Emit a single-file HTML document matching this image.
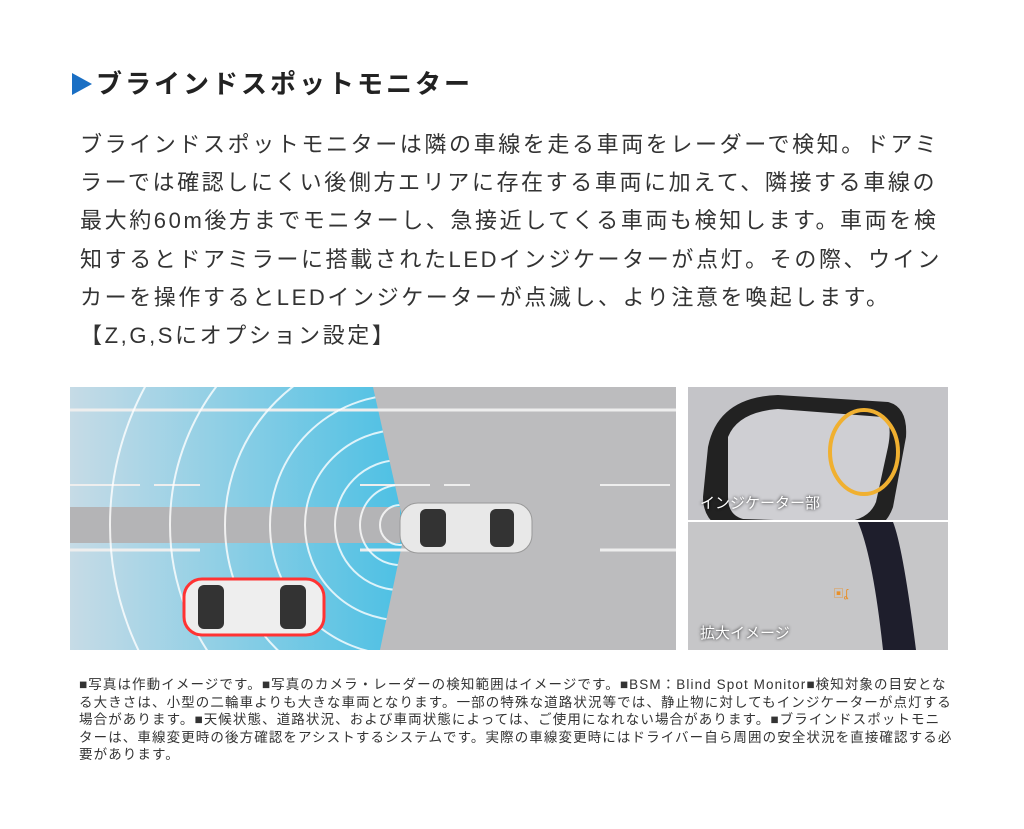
<!DOCTYPE html>
<html><head><meta charset="utf-8"><style>
body{margin:0;width:1024px;height:829px;background:#fff;position:relative;overflow:hidden;font-family:"Liberation Sans","Noto Sans CJK JP",sans-serif;color:#333}
.t{position:absolute;left:72px;top:64px;font-size:26px;font-weight:bold;color:#222;white-space:nowrap;letter-spacing:3px}
.t span{display:inline-block;width:0;height:0;border-top:11px solid transparent;border-bottom:11px solid transparent;border-left:20px solid #1a6fc4;vertical-align:-2px;margin-right:4px}
.b{position:absolute;left:80px;top:126px;font-size:22px;line-height:38.2px;color:#333;white-space:nowrap;letter-spacing:2.6px}
.f{position:absolute;left:79px;top:676px;font-size:13.5px;line-height:17.6px;color:#333;white-space:nowrap;letter-spacing:1.1px}
.lbl{position:absolute;color:#fff;font-size:15px;text-shadow:0 0 3px #000}
</style></head><body>
<div class="t"><span></span>ブラインドスポットモニター</div>
<div class="b">ブラインドスポットモニターは隣の車線を走る車両をレーダーで検知。ドアミ<br>ラーでは確認しにくい後側方エリアに存在する車両に加えて、隣接する車線の<br>最大約60m後方までモニターし、急接近してくる車両も検知します。車両を検<br>知するとドアミラーに搭載されたLEDインジケーターが点灯。その際、ウイン<br>カーを操作するとLEDインジケーターが点滅し、より注意を喚起します。<br>【Z,G,Sにオプション設定】</div>
<svg style="position:absolute;left:70px;top:387px" width="606" height="263">
<defs><linearGradient id="g" x1="0" x2="1"><stop offset="0" stop-color="#c6dbe6"/><stop offset="1" stop-color="#4cc0e4"/></linearGradient>
<clipPath id="c"><polygon points="0,0 303,0 335,143 310,263 0,263"/></clipPath></defs>
<rect width="606" height="263" fill="#bcbcbe"/>
<polygon points="0,0 303,0 335,143 310,263 0,263" fill="url(#g)"/>
<g stroke="#eee" stroke-width="3"><line x1="0" y1="23" x2="606" y2="23"/><line x1="0" y1="163" x2="130" y2="163"/><line x1="290" y1="163" x2="400" y2="163"/><line x1="530" y1="163" x2="606" y2="163"/><line x1="0" y1="300" x2="606" y2="300"/></g>
<g stroke="#eee" stroke-width="2" stroke-dasharray="70 14"><line x1="0" y1="98" x2="130" y2="98"/><line x1="530" y1="98" x2="606" y2="98"/><line x1="290" y1="98" x2="400" y2="98"/></g>
<rect x="0" y="120" width="330" height="36" fill="#b4b4b6"/>
<g clip-path="url(#c)" fill="none" stroke="#fff" stroke-width="2" opacity=".8">
<circle cx="330" cy="138" r="20"/><circle cx="330" cy="138" r="40"/><circle cx="330" cy="138" r="65"/><circle cx="330" cy="138" r="95"/><circle cx="330" cy="138" r="130"/><circle cx="330" cy="138" r="175"/><circle cx="330" cy="138" r="230"/><circle cx="330" cy="138" r="290"/></g>
<rect x="330" y="116" width="132" height="50" rx="18" fill="#e8e8e8" stroke="#999"/>
<rect x="350" y="122" width="26" height="38" rx="6" fill="#333"/><rect x="420" y="122" width="24" height="38" rx="6" fill="#333"/>
<rect x="114" y="192" width="140" height="56" rx="18" fill="#eee" stroke="#f33" stroke-width="3"/>
<rect x="128" y="198" width="26" height="44" rx="6" fill="#333"/><rect x="210" y="198" width="26" height="44" rx="6" fill="#333"/>
</svg>
<svg style="position:absolute;left:688px;top:387px" width="260" height="263">
<rect width="260" height="263" fill="#c4c4c8"/>
<rect x="60" y="30" width="100" height="100" fill="#b0b0b4"/>
<path d="M20,60 Q30,10 90,8 L200,15 Q220,20 218,50 L205,120 Q195,150 150,150 L50,148 Q15,140 15,110 Z" fill="#222"/>
<path d="M40,50 Q50,25 90,22 L195,30 Q205,35 200,60 L188,115 Q180,135 150,135 L55,132 Q40,128 40,110 Z" fill="#cfcfd3"/>
<ellipse cx="176" cy="65" rx="34" ry="42" fill="none" stroke="#f0b030" stroke-width="4"/>
<rect x="0" y="133" width="260" height="2" fill="#fff"/>
<rect x="0" y="135" width="260" height="128" fill="#c6c6c8"/>
<path d="M170,135 L205,135 Q215,160 228,263 L195,263 Q185,170 170,135Z" fill="#1e1e2c"/>
<text x="145" y="210" fill="#e8902a" font-size="11">▣ʆ</text>
</svg>
<div class="lbl" style="left:700px;top:492px">インジケーター部</div>
<div class="lbl" style="left:700px;top:622px">拡大イメージ</div>
<div class="f">■写真は作動イメージです。■写真のカメラ・レーダーの検知範囲はイメージです。■BSM：Blind Spot Monitor■検知対象の目安とな<br>る大きさは、小型の二輪車よりも大きな車両となります。一部の特殊な道路状況等では、静止物に対してもインジケーターが点灯する<br>場合があります。■天候状態、道路状況、および車両状態によっては、ご使用になれない場合があります。■ブラインドスポットモニ<br>ターは、車線変更時の後方確認をアシストするシステムです。実際の車線変更時にはドライバー自ら周囲の安全状況を直接確認する必<br>要があります。</div>
</body></html>
